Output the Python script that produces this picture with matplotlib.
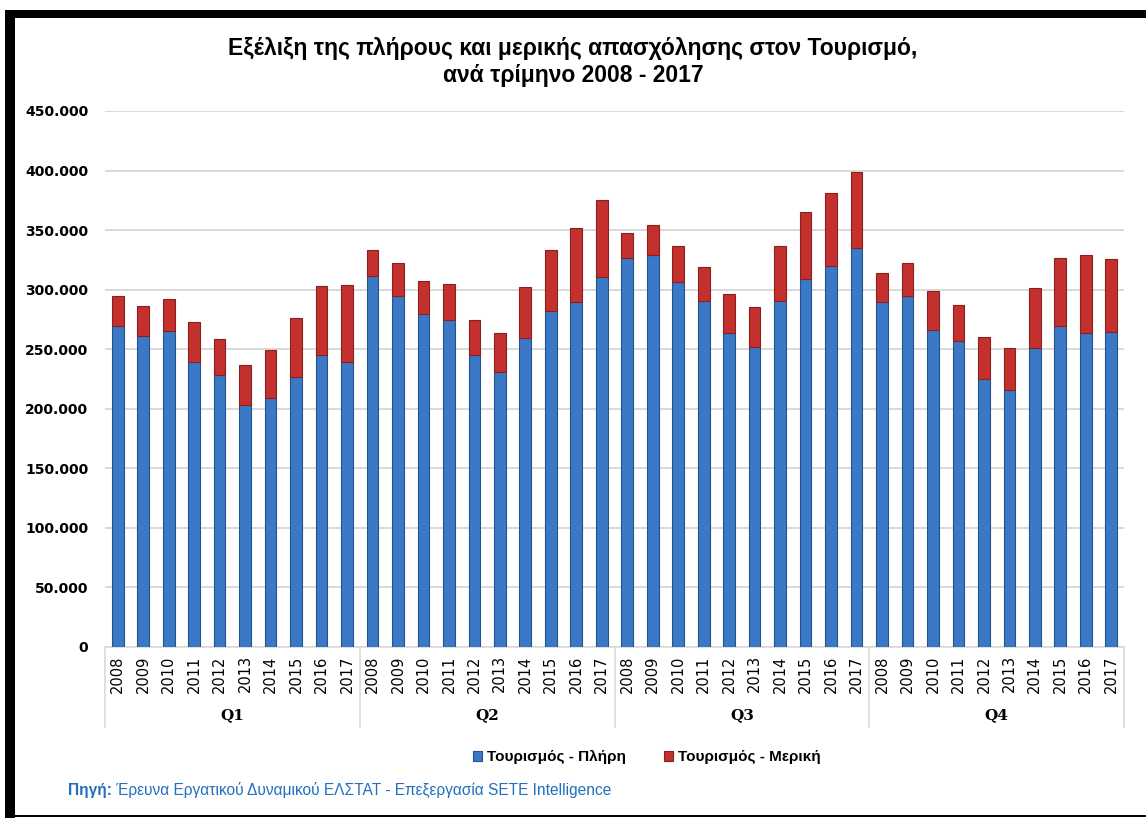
import matplotlib
matplotlib.use("Agg")
import matplotlib.pyplot as plt
from matplotlib.patches import Rectangle
from matplotlib.ticker import FuncFormatter, MultipleLocator
import matplotlib.transforms as mtransforms

# ---- data (persons employed in tourism) ----
years = ["2008", "2009", "2010", "2011", "2012", "2013", "2014", "2015", "2016", "2017"]
quarters = ["Q1", "Q2", "Q3", "Q4"]

full_q1 = [269700, 260800, 265000, 239200, 228600, 202800, 209200, 226900, 244800, 239200]
full_q2 = [311800, 295000, 279800, 274800, 244800, 230500, 259100, 281800, 289900, 310700]
full_q3 = [326600, 329100, 306500, 290800, 263600, 251500, 290800, 309000, 319900, 335300]
full_q4 = [289900, 295000, 266400, 257100, 225000, 215700, 250700, 269500, 263900, 264700]

part_q1 = [24700, 25500, 27200, 33900, 29600, 33600, 39800, 49300, 58300, 64700]
part_q2 = [21800, 27100, 27200, 30000, 29700, 33100, 42900, 51800, 61900, 64700]
part_q3 = [21000, 25300, 30500, 27900, 32800, 34000, 46200, 56300, 61400, 63300]
part_q4 = [23800, 27100, 32200, 30000, 35200, 35600, 50400, 57400, 64900, 60800]

title = "Εξέλιξη της πλήρους και μερικής απασχόλησης στον Τουρισμό,\nανά τρίμηνο 2008 - 2017"
label_full = "Τουρισμός - Πλήρη"
label_part = "Τουρισμός - Μερική"
source_bold = "Πηγή:"
source_text = " Έρευνα Εργατικού Δυναμικού ΕΛΣΤΑΤ - Επεξεργασία SETE Intelligence"

full = full_q1 + full_q2 + full_q3 + full_q4
part = part_q1 + part_q2 + part_q3 + part_q4
x = list(range(len(full)))

BLUE = "#3b79c6"
BLUE_EDGE = "#24538f"
RED = "#c3302d"
RED_EDGE = "#8a1f1d"

W, H = 1146, 818
fig = plt.figure(figsize=(W / 100, H / 100), dpi=100)
ax = fig.add_axes([105 / W, (H - 647) / H, (1124 - 105) / W, (647 - 111) / H])

ax.bar(x, full, width=0.46, color=BLUE, edgecolor=BLUE_EDGE, linewidth=0.8,
       label=label_full, zorder=3)
ax.bar(x, part, width=0.46, bottom=full, color=RED, edgecolor=RED_EDGE, linewidth=0.8,
       label=label_part, zorder=3)

ax.set_xlim(-0.5, len(full) - 0.5)
ax.set_ylim(0, 450000)
ax.yaxis.set_major_locator(MultipleLocator(50000))
ax.yaxis.set_major_formatter(FuncFormatter(lambda v, p: f"{v:,.0f}".replace(",", ".")))
ax.grid(axis="y", color="#d9d9d9", linewidth=1.4, zorder=0)
ax.set_axisbelow(True)

for s in ["top", "right", "left"]:
    ax.spines[s].set_visible(False)
ax.spines["bottom"].set_color("#d9d9d9")
ax.spines["bottom"].set_linewidth(1.2)

ax.tick_params(axis="y", length=0, pad=12)
ax.tick_params(axis="x", length=0, pad=6)
for lab in ax.get_yticklabels():
    lab.set_fontweight("bold")
    lab.set_fontsize(10)

ax.set_xticks(x)
ax.set_xticklabels(years * len(quarters), rotation=90, fontsize=10.5)

# grouped category axis: separators and quarter labels
trans = mtransforms.blended_transform_factory(ax.transData, ax.transAxes)
sep_bottom = -80 / 536
for i in range(len(quarters) + 1):
    xs = i * len(years) - 0.5
    ax.plot([xs, xs], [0, sep_bottom], transform=trans, color="#d9d9d9",
            linewidth=1.2, clip_on=False)
for i, q in enumerate(quarters):
    xc = i * len(years) + (len(years) - 1) / 2
    ax.text(xc, -68 / 536, q, transform=trans, ha="center", va="center",
            fontsize=11, fontweight="bold", family="DejaVu Serif")

fig.text(0.5, (H - 62) / H, title, ha="center", va="center", fontsize=16.5,
         fontweight="bold", family="Liberation Sans", linespacing=1.2)

leg = fig.legend(loc="center", bbox_to_anchor=(647 / W, (H - 757) / H), ncol=2,
                 frameon=False, handlelength=0.6, handleheight=0.6, handletextpad=0.3,
                 columnspacing=2.5, prop={"family": "Liberation Sans", "weight": "bold", "size": 11})

t1 = fig.text(68 / W, (H - 790) / H, source_bold, ha="left", va="center", fontsize=11.2,
              fontweight="bold", color="#2170c0", family="Liberation Sans")
fig.canvas.draw()
bb = t1.get_window_extent()
fig.text(bb.x1 / W, (H - 790) / H, source_text, ha="left", va="center", fontsize=11.2,
         color="#2170c0", family="Liberation Sans")

# black frame around the chart
fig.patches.append(Rectangle((5 / W, 0), 10 / W, (H - 10) / H, transform=fig.transFigure,
                             facecolor="black", edgecolor="none"))
fig.patches.append(Rectangle((5 / W, (H - 18) / H), 1 - 5 / W, 8 / H, transform=fig.transFigure,
                             facecolor="black", edgecolor="none"))
fig.patches.append(Rectangle((5 / W, 1 / H), 1 - 5 / W, 2 / H, transform=fig.transFigure,
                             facecolor="black", edgecolor="none"))

fig.savefig("out.png", dpi=100)
